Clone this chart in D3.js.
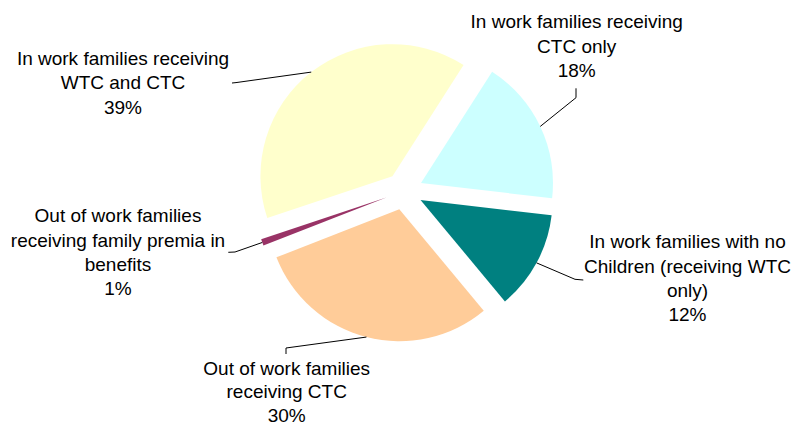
<!DOCTYPE html>
<html>
<head>
<meta charset="utf-8">
<script src="https://cdn.jsdelivr.net/npm/d3@7"></script>
<style>
  html, body { margin: 0; padding: 0; background: #fff; }
  svg { display: block; }
  text { font-family: "Liberation Sans", Arial, sans-serif; font-size: 19px; fill: #000; }
</style>
</head>
<body>
<svg id="chart" width="798" height="426"></svg>
<script>
// ---- data ----
const categories = [
  "In work families receiving CTC only",
  "In work families with no Children (receiving WTC only)",
  "Out of work families receiving CTC",
  "Out of work families receiving family premia in benefits",
  "In work families receiving WTC and CTC"
];
const labelLines = [
  ["In work families receiving", "CTC only"],
  ["In work families with no", "Children (receiving WTC", "only)"],
  ["Out of work families", "receiving CTC"],
  ["Out of work families", "receiving family premia in", "benefits"],
  ["In work families receiving", "WTC and CTC"]
];
const values = [17.8, 12.1, 30.1, 0.8, 39.2];
const colors = ["#CCFFFF", "#008080", "#FFCC99", "#993366", "#FFFFCC"];

// ---- layout (positions only) ----
const cx = 404, cy = 191, radius = 132, explode = 18.8;
const startDeg = 32.6;
const labelLayout = [
  { x: 576.7, y: 21.5, gap: 24.3, elbow: [576, 97.7], end: [576, 88.3] },
  { x: 687.5, y: 241.7, gap: 24.3, elbow: [575, 279.3], end: [583.3, 280] },
  { x: 286.7, y: 368.5, gap: 23.2, elbow: [286, 348], end: [286, 354] },
  { x: 118, y: 215.5, gap: 24.3, elbow: [235, 252], end: [228.3, 252.3] },
  { x: 123, y: 58.3, gap: 24.3, elbow: [236, 82.6], end: [232, 83] }
];

const svg = d3.select("#chart");
const total = d3.sum(values);
const pie = d3.pie().sort(null).value(d => d)
  .startAngle(startDeg * Math.PI / 180)
  .endAngle(startDeg * Math.PI / 180 + 2 * Math.PI);
const arcs = pie(values);
const arc = d3.arc().innerRadius(0).outerRadius(radius);

const g = svg.append("g").attr("transform", `translate(${cx},${cy})`);

function offset(a, r) {
  const m = (a.startAngle + a.endAngle) / 2;
  return [Math.sin(m) * r, -Math.cos(m) * r];
}

g.selectAll("path.slice")
  .data(arcs)
  .join("path")
  .attr("class", "slice")
  .attr("d", arc)
  .attr("fill", (d, i) => colors[i])
  .attr("transform", d => {
    const [dx, dy] = offset(d, explode);
    return `translate(${dx},${dy})`;
  });

// leader lines
const line = d3.line();
svg.selectAll("path.leader")
  .data(arcs)
  .join("path")
  .attr("class", "leader")
  .attr("fill", "none")
  .attr("stroke", "#000")
  .attr("stroke-width", 1)
  .attr("d", (d, i) => {
    const [px, py] = offset(d, explode + radius);
    const L = labelLayout[i];
    return line([[cx + px, cy + py], L.elbow, L.end]);
  });

// labels
const fmt = v => Math.round(v / total * 100) + "%";
arcs.forEach((d, i) => {
  const L = labelLayout[i];
  const lines = labelLines[i].concat([fmt(d.data)]);
  const t = svg.append("text").attr("text-anchor", "middle");
  lines.forEach((s, k) => {
    t.append("tspan")
      .attr("x", L.x)
      .attr("y", L.y + k * L.gap + 6.7)
      .text(s);
  });
});
</script>
</body>
</html>
